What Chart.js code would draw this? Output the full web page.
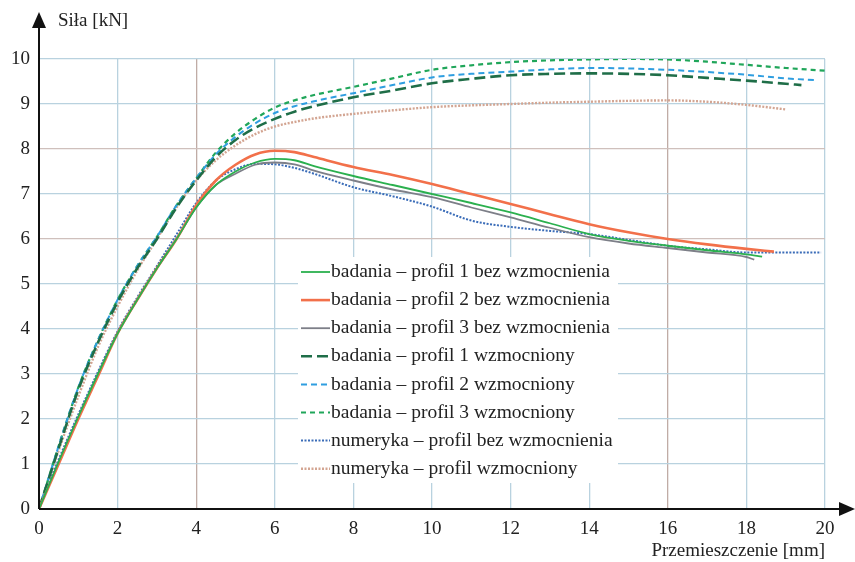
<!DOCTYPE html>
<html>
<head>
<meta charset="utf-8">
<script src="https://cdn.jsdelivr.net/npm/chart.js@4.4.1/dist/chart.umd.min.js"></script>
<style>
  html, body { margin: 0; padding: 0; background: #fff; }
  #wrap { width: 855px; height: 562px; position: relative; }
</style>
</head>
<body>
<div id="wrap"><canvas id="chart"></canvas></div>
<script>
// dane
const xTicks = [0, 2, 4, 6, 8, 10, 12, 14, 16, 18, 20];
const yTicks = [0, 1, 2, 3, 4, 5, 6, 7, 8, 9, 10];

const labels = [
  'badania – profil 1 bez wzmocnienia',
  'badania – profil 2 bez wzmocnienia',
  'badania – profil 3 bez wzmocnienia',
  'badania – profil 1 wzmocniony',
  'badania – profil 2 wzmocniony',
  'badania – profil 3 wzmocniony',
  'numeryka – profil bez wzmocnienia',
  'numeryka – profil wzmocniony'
];

// przemieszczenia (mm)
const xBez = [0, 0.5, 1, 1.5, 2, 2.5, 3, 3.5, 4, 4.5, 5, 5.5, 6, 6.5, 7, 8, 9, 10, 11, 12, 13, 14, 15, 16, 17, 18];
const xWzm = [0, 0.5, 1, 1.5, 2, 2.5, 3, 3.5, 4, 4.5, 5, 5.5, 6, 6.5, 7, 8, 9, 10, 11, 12, 13, 14, 15, 16, 17, 18, 19];

// siły (kN)
const badP1Bez = [0, 1.05, 2.05, 3.0, 3.9, 4.65, 5.35, 6.0, 6.7, 7.2, 7.5, 7.7, 7.78, 7.75, 7.62, 7.4, 7.2, 7.0, 6.8, 6.59, 6.35, 6.11, 5.96, 5.85, 5.75, 5.66];
const badP2Bez = [0, 1.0, 2.0, 2.95, 3.9, 4.65, 5.35, 6.0, 6.75, 7.3, 7.65, 7.88, 7.96, 7.93, 7.82, 7.6, 7.42, 7.22, 7.0, 6.78, 6.55, 6.33, 6.15, 6.0, 5.88, 5.78];
const badP3Bez = [0, 1.05, 2.05, 3.0, 3.92, 4.65, 5.35, 6.0, 6.7, 7.2, 7.45, 7.65, 7.7, 7.66, 7.52, 7.3, 7.1, 6.93, 6.7, 6.48, 6.25, 6.04, 5.9, 5.8, 5.7, 5.6];
const numBez = [0, 1.1, 2.1, 3.05, 3.95, 4.7, 5.4, 6.1, 6.8, 7.3, 7.55, 7.67, 7.66, 7.58, 7.45, 7.15, 6.95, 6.72, 6.41, 6.27, 6.18, 6.11, 5.98, 5.85, 5.77, 5.7];

const badP1Wzm = [0, 1.35, 2.65, 3.7, 4.6, 5.35, 6.0, 6.7, 7.3, 7.82, 8.2, 8.47, 8.67, 8.83, 8.95, 9.15, 9.3, 9.46, 9.56, 9.64, 9.67, 9.68, 9.67, 9.64, 9.58, 9.52, 9.45];
const badP2Wzm = [0, 1.4, 2.7, 3.75, 4.65, 5.4, 6.05, 6.75, 7.35, 7.88, 8.27, 8.57, 8.8, 8.95, 9.06, 9.24, 9.42, 9.59, 9.67, 9.72, 9.77, 9.8, 9.79, 9.76, 9.71, 9.65, 9.57];
const badP3Wzm = [0, 1.4, 2.7, 3.75, 4.65, 5.4, 6.05, 6.75, 7.35, 7.92, 8.35, 8.67, 8.92, 9.08, 9.2, 9.38, 9.57, 9.76, 9.86, 9.93, 9.97, 9.99, 10.0, 9.99, 9.94, 9.87, 9.8];
const numWzm = [0, 1.3, 2.5, 3.6, 4.5, 5.3, 6.0, 6.7, 7.3, 7.75, 8.08, 8.33, 8.5, 8.6, 8.68, 8.78, 8.86, 8.93, 8.97, 9.0, 9.03, 9.05, 9.07, 9.08, 9.05, 8.98, 8.88];

// końcowe punkty (x, y) każdej krzywej
const endX = [18.4, 18.7, 18.2, 19.4, 19.8, 20.0, 19.9, 19.0];
const endY = [5.61, 5.72, 5.54, 9.42, 9.53, 9.74, 5.7, 8.88];

const colors = ['#2bb04e', '#f2704a', '#7d7f88', '#1f6e48', '#2f9ee0', '#20a65a', '#3a6cb8', '#d3a592'];
const widths = [1.8, 2.6, 1.8, 2.6, 2, 2.2, 2, 2.4];
const dashes = [[], [], [], [11, 5], [6, 4], [5, 4], [2, 1.5], [2, 1.5]];

const seriesX = [xBez, xBez, xBez, xWzm, xWzm, xWzm, xBez, xWzm];
const seriesY = [badP1Bez, badP2Bez, badP3Bez, badP1Wzm, badP2Wzm, badP3Wzm, numBez, numWzm];

const serif = "'Liberation Serif', 'DejaVu Serif', serif";

const datasets = seriesY.map((ys, i) => {
  const pts = ys.map((y, j) => ({ x: seriesX[i][j], y: y })).filter(p => p.x < endX[i]);
  if (i === 6) pts.push({ x: 19, y: 5.7 });
  pts.push({ x: endX[i], y: endY[i] });
  return {
    label: labels[i],
    data: pts,
    borderColor: colors[i],
    backgroundColor: colors[i],
    borderWidth: widths[i],
    borderDash: dashes[i],
    pointRadius: 0,
    fill: false,
    cubicInterpolationMode: 'monotone'
  };
});
// kolejność rysowania: numeryka pod spodem
datasets[6].order = 8;
datasets[7].order = 8;

// strzałki osi, opisy osi i legenda
const decorPlugin = {
  id: 'decor',
  afterDatasetsDraw(chart) {
    const ctx = chart.ctx;
    const a = chart.chartArea;
    const x0 = chart.scales.x.getPixelForValue(0);
    const y0 = chart.scales.y.getPixelForValue(0);
    ctx.save();
    ctx.strokeStyle = '#111';
    ctx.fillStyle = '#111';
    ctx.lineWidth = 2;
    ctx.beginPath();
    ctx.moveTo(x0, y0);
    ctx.lineTo(x0, 26);
    ctx.moveTo(x0, y0);
    ctx.lineTo(848, y0);
    ctx.stroke();
    ctx.beginPath();
    ctx.moveTo(x0, 12);
    ctx.lineTo(x0 - 7, 28);
    ctx.lineTo(x0 + 7, 28);
    ctx.closePath();
    ctx.fill();
    ctx.beginPath();
    ctx.moveTo(855, y0);
    ctx.lineTo(839, y0 - 7);
    ctx.lineTo(839, y0 + 7);
    ctx.closePath();
    ctx.fill();

    ctx.font = '19px ' + serif;
    ctx.fillStyle = '#222';
    ctx.textBaseline = 'middle';
    ctx.textAlign = 'left';
    ctx.fillText('Siła [kN]', 58, 21);
    ctx.textAlign = 'right';
    ctx.fillText('Przemieszczenie [mm]', a.right, 551);

    // legenda
    ctx.fillStyle = '#fff';
    ctx.fillRect(298, 257, 320, 226);
    ctx.textAlign = 'left';
    ctx.font = '19.5px ' + serif;
    chart.data.datasets.forEach((ds, i) => {
      const y = 272 + i * 28.1;
      ctx.strokeStyle = ds.borderColor;
      ctx.lineWidth = ds.borderWidth;
      ctx.setLineDash(ds.borderDash);
      ctx.beginPath();
      ctx.moveTo(301, y);
      ctx.lineTo(330, y);
      ctx.stroke();
      ctx.setLineDash([]);
      ctx.fillStyle = '#222';
      ctx.fillText(ds.label, 331, y);
    });
    ctx.restore();
  }
};

const ctx = document.getElementById('chart').getContext('2d');
new Chart(ctx, {
  type: 'line',
  data: { datasets: datasets },
  options: {
    responsive: true,
    maintainAspectRatio: false,
    animation: false,
    layout: { padding: { top: 59, right: 30, left: 0, bottom: 0 } },
    plugins: {
      legend: { display: false },
      tooltip: { enabled: false }
    },
    scales: {
      x: {
        type: 'linear',
        min: 0,
        max: 20,
        afterFit: s => { s.height = 53; },
        afterBuildTicks: s => { s.ticks = xTicks.map(v => ({ value: v })); },
        border: { display: false },
        grid: {
          drawTicks: false,
          lineWidth: 1.3,
          color: c => (c.tick && (c.tick.value === 4 || c.tick.value === 16)) ? '#c0aca6' : '#b9d2df'
        },
        ticks: { padding: 9, color: '#222', font: { family: serif, size: 19 } }
      },
      y: {
        min: 0,
        max: 10,
        afterFit: s => { s.width = 39; },
        afterBuildTicks: s => { s.ticks = yTicks.map(v => ({ value: v })); },
        border: { display: false },
        grid: {
          drawTicks: false,
          lineWidth: 1.3,
          color: c => (c.tick && (c.tick.value === 6 || c.tick.value === 8)) ? '#cfc0bc' : '#b9d2df'
        },
        ticks: { padding: 9, color: '#222', font: { family: serif, size: 19 } }
      }
    }
  },
  plugins: [decorPlugin]
});
</script>
</body>
</html>
